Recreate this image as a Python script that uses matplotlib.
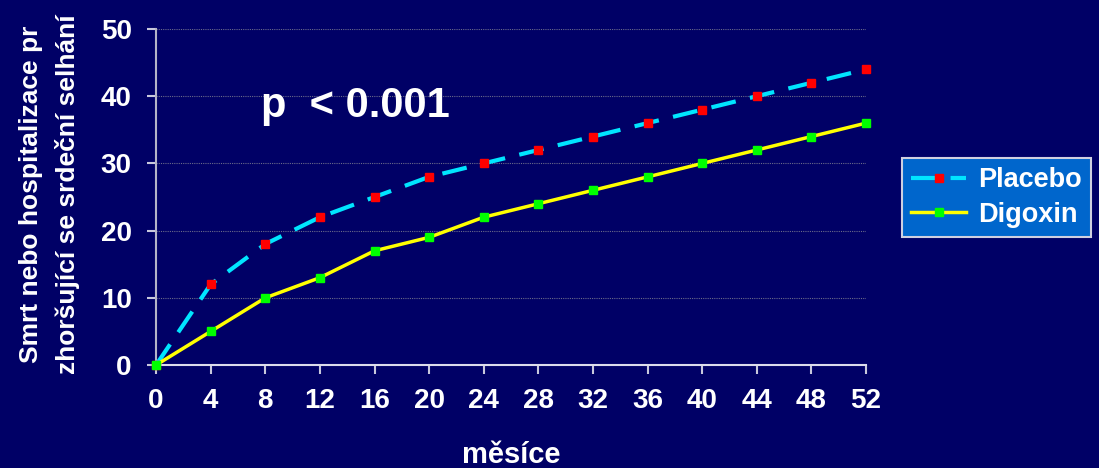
import matplotlib
matplotlib.use("Agg")
import matplotlib.pyplot as plt

months = [0, 4, 8, 12, 16, 20, 24, 28, 32, 36, 40, 44, 48, 52]
placebo = [0, 12, 18, 22, 25, 28, 30, 32, 34, 36, 38, 40, 42, 44]
digoxin = [0, 5, 10, 13, 17, 19, 22, 24, 26, 28, 30, 32, 34, 36]
yticks = [0, 10, 20, 30, 40, 50]

BG = "#000066"
plt.rcParams['font.family'] = ['Liberation Sans', 'DejaVu Sans']

fig = plt.figure(figsize=(10.99, 4.68), dpi=100, facecolor=BG)
ax = fig.add_axes([0.142, 0.220, 0.646, 0.718], facecolor=BG)

ax.plot(months, placebo, color="#00E5FF", lw=3, dashes=(6, 3.5),
        marker="s", ms=6, mfc="#FF0000", mec="#FF0000", label="Placebo", zorder=3)
ax.plot(months, digoxin, color="#FFFF00", lw=2.5,
        marker="s", ms=6, mfc="#00FF00", mec="#00FF00", label="Digoxin", zorder=4)

ax.set_xlim(0, 52)
ax.set_ylim(0, 50)
ax.set_xticks(months)
ax.set_yticks(yticks)
ax.tick_params(axis="both", colors="#C8C8DC", labelcolor="white", labelsize=20,
               length=6.5, width=1.5, direction="out")
ax.tick_params(axis="y", pad=11)
ax.tick_params(axis="x", pad=10)
for lab in ax.get_xticklabels() + ax.get_yticklabels():
    lab.set_fontweight("bold")

ax.grid(axis="y", color="#6A6A8A", linestyle=(0, (1, 1)), lw=0.8)
ax.set_axisbelow(True)
for s in ["top", "right"]:
    ax.spines[s].set_visible(False)
ax.spines["left"].set_color("#B4B4C8")
ax.spines["bottom"].set_color("#DCDCEC")
ax.spines["left"].set_linewidth(1.5)
ax.spines["bottom"].set_linewidth(1.5)
for l in ax.lines:
    l.set_clip_on(False)

fig.text(511 / 1099, 1 - 463 / 468, "měsíce", color="white", fontsize=21,
         fontweight="bold", ha="center", va="baseline")
fig.text(50 / 1099, 1 - 194 / 468,
         "Smrt nebo hospitalizace pr\nzhoršující se srdeční selhání",
         color="white", fontsize=19, fontweight="bold", rotation=90,
         ha="center", va="center", multialignment="center", linespacing=1.6)

ax.text(0.148, 0.77, "p  < 0.001", transform=ax.transAxes, color="white",
        fontsize=30, fontweight="bold", ha="left", va="center")

leg = fig.legend(loc="upper left", bbox_to_anchor=(902 / 1099, 1 - 158 / 468),
                 borderaxespad=0, frameon=True,
                 fancybox=False, facecolor="#0066CC", edgecolor="#D0D0E0",
                 prop={"weight": "bold", "size": 19.5}, labelcolor="white",
                 handlelength=2.0, borderpad=0.35, labelspacing=0.3,
                 handletextpad=0.45)
leg.get_frame().set_linewidth(1.5)
leg.get_frame().set_alpha(1)

fig.savefig("out.png", dpi=100, facecolor=BG)
